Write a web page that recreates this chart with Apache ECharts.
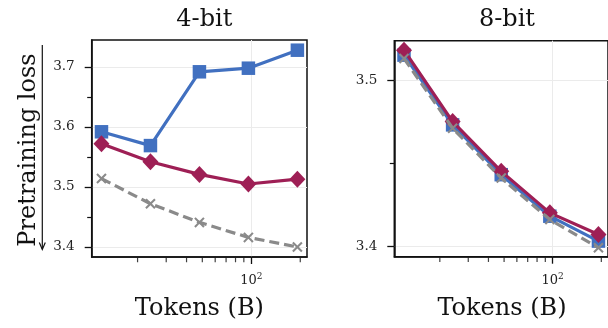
<!DOCTYPE html>
<html>
<head>
<meta charset="utf-8">
<script src="https://cdn.jsdelivr.net/npm/echarts@6/dist/echarts.min.js"></script>
<style>
  html, body { margin: 0; padding: 0; background: #fff; }
  #chart { width: 608px; height: 328px; }
</style>
</head>
<body>
<div id="chart"></div>
<script>
// Training tokens (billions) for each run
const tokens = [12, 24, 48, 96, 192];

// 4-bit pretraining loss
const loss4Blue = [3.592, 3.569, 3.692, 3.698, 3.728];
const loss4Red  = [3.572, 3.542, 3.521, 3.505, 3.513];
const loss4Ref  = [3.514, 3.472, 3.441, 3.416, 3.400];

// 8-bit pretraining loss
const loss8Blue = [3.515, 3.473, 3.443, 3.418, 3.403];
const loss8Red  = [3.518, 3.475, 3.445, 3.420, 3.407];
const loss8Ref  = [3.513, 3.471, 3.441, 3.416, 3.399];

// Tick values
const xMajorTicks = [100];
const xMinorTicks = [20, 30, 40, 50, 60, 70, 80, 90, 200];
const y4MajorTicks = [3.4, 3.5, 3.6, 3.7];
const y4MinorTicks = [3.45, 3.55, 3.65];
const y8MajorTicks = [3.4, 3.5];
const y8MinorTicks = [3.45];

const panelTitles = ['4-bit', '8-bit'];
const xTitle = 'Tokens (B)';
const yTitle = 'Pretraining loss';

const SERIF = '"DejaVu Serif", serif';
const INK = '#111';
const BLUE = '#4170c0';
const RED = '#9e1f55';
const GREY = '#8a8a8a';

const grids = [
  { left: 91.7, top: 40, width: 215.3, height: 217 },
  { left: 394.3, top: 40.7, width: 215.3, height: 216 }
];
const xRange = { min: 10.45, max: 220 };
const yRanges = [
  { min: 3.3833, max: 3.745 },
  { min: 3.3936, max: 3.5237 }
];
const yMajor = [y4MajorTicks, y8MajorTicks];
const yMinor = [y4MinorTicks, y8MinorTicks];

// X-shaped marker (filled polygon)
const CROSS = 'path://M0,1.4L1.4,0L5,3.6L8.6,0L10,1.4L6.4,5L10,8.6L8.6,10L5,6.4L1.4,10L0,8.6L3.6,5Z';

const xAxes = [];
const yAxes = [];
// y minor tick axes (indices 0, 1)
grids.forEach((g, i) => {
  yAxes.push({
    type: 'value', gridIndex: i, position: 'left',
    min: yRanges[i].min, max: yRanges[i].max,
    axisLine: { show: false },
    axisTick: { show: true, customValues: yMinor[i], length: 4.5, lineStyle: { color: INK, width: 1.2 } },
    axisLabel: { show: false },
    splitLine: { show: false }
  });
});
// labelled axes (x: 0, 1; y: 2, 3)
grids.forEach((g, i) => {
  xAxes.push({
    type: 'log', gridIndex: i, position: 'bottom',
    min: xRange.min, max: xRange.max,
    axisLine: { show: true, onZero: false, lineStyle: { color: INK, width: 1.5 } },
    axisTick: { show: true, customValues: xMajorTicks, length: 7, lineStyle: { color: INK, width: 1.3 } },
    axisLabel: {
      customValues: xMajorTicks, margin: 15,
      formatter: v => '{a|10}{s|' + Math.round(Math.log10(v)) + '}',
      rich: {
        a: { fontFamily: SERIF, fontSize: 13, color: '#222' },
        s: { fontFamily: SERIF, fontSize: 9, color: '#222', padding: [0, 0, 8, 0] }
      }
    },
    splitLine: { show: true, lineStyle: { color: '#ebebeb', width: 1 } }
  });
  yAxes.push({
    type: 'value', gridIndex: i, position: 'left',
    min: yRanges[i].min, max: yRanges[i].max,
    axisLine: { show: true, onZero: false, lineStyle: { color: INK, width: 1.5 } },
    axisTick: { show: true, customValues: yMajor[i], length: 7, lineStyle: { color: INK, width: 1.3 } },
    axisLabel: {
      customValues: yMajor[i], margin: 17,
      formatter: v => v.toFixed(1),
      fontFamily: SERIF, fontSize: 13.5, color: '#222'
    },
    splitLine: { show: true, lineStyle: { color: '#ebebeb', width: 1 } }
  });
});

function pairs(vals) { return tokens.map((t, k) => [t, vals[k]]); }

function makeSeries(i, vals, kind) {
  const base = {
    type: 'line', xAxisIndex: i, yAxisIndex: i + 2,
    data: pairs(vals), showSymbol: true, animation: false, silent: true
  };
  if (kind === 'blue') {
    return Object.assign(base, {
      symbol: 'rect', symbolSize: 13.5, z: 3,
      lineStyle: { color: BLUE, width: 3.2 },
      itemStyle: { color: BLUE }
    });
  }
  if (kind === 'red') {
    return Object.assign(base, {
      symbol: 'diamond', symbolSize: [16, 17], z: 4,
      lineStyle: { color: RED, width: 3.2 },
      itemStyle: { color: RED }
    });
  }
  return Object.assign(base, {
    symbol: CROSS, symbolSize: 10.5, z: 5,
    lineStyle: { color: GREY, width: 3.2, type: [10, 5] },
    itemStyle: { color: GREY }
  });
}

// Minor x ticks: short marks hanging below each x axis at the minor tick values
function minorXTicks(i) {
  return {
    type: 'scatter', xAxisIndex: i, yAxisIndex: i + 2,
    data: xMinorTicks.map(v => [v, yRanges[i].min]),
    symbol: 'rect', symbolSize: [1.2, 4.5], symbolOffset: [0, 3],
    itemStyle: { color: INK }, clip: false, silent: true, animation: false, z: 6
  };
}

const series = [
  makeSeries(0, loss4Blue, 'blue'),
  makeSeries(0, loss4Red, 'red'),
  makeSeries(0, loss4Ref, 'ref'),
  makeSeries(1, loss8Blue, 'blue'),
  makeSeries(1, loss8Red, 'red'),
  makeSeries(1, loss8Ref, 'ref'),
  minorXTicks(0),
  minorXTicks(1)
];

const titles = grids.map((g, i) => ({
  text: panelTitles[i],
  left: g.left + g.width / 2, top: 3, textAlign: 'center',
  textStyle: { fontFamily: SERIF, fontSize: 24, fontWeight: 'normal', color: '#111' }
}));

const graphics = [
  {
    type: 'text', x: 29, y: 150, rotation: Math.PI / 2,
    style: { text: yTitle, font: '24px ' + SERIF, fill: '#111', textAlign: 'center', textVerticalAlign: 'middle' }
  },
  {
    type: 'line', shape: { x1: 42.3, y1: 45, x2: 42.3, y2: 249 },
    style: { stroke: '#111', lineWidth: 1.2 }
  },
  {
    type: 'polyline', shape: { points: [[39.3, 242.5], [42.3, 249.5], [45.3, 242.5]] },
    style: { stroke: '#111', lineWidth: 1.2, fill: null }
  }
];
grids.forEach(g => {
  graphics.push({
    type: 'text', x: g.left + g.width / 2, y: 309,
    style: { text: xTitle, font: '24px ' + SERIF, fill: '#111', textAlign: 'center', textVerticalAlign: 'middle' }
  });
});

const chart = echarts.init(document.getElementById('chart'), null, { renderer: 'canvas' });
chart.setOption({
  animation: false,
  backgroundColor: '#fff',
  title: titles,
  grid: grids.map(g => Object.assign({ show: true, borderColor: INK, borderWidth: 1.5, backgroundColor: 'transparent' }, g)),
  xAxis: xAxes,
  yAxis: yAxes,
  series: series,
  graphic: graphics
});
</script>
</body>
</html>
